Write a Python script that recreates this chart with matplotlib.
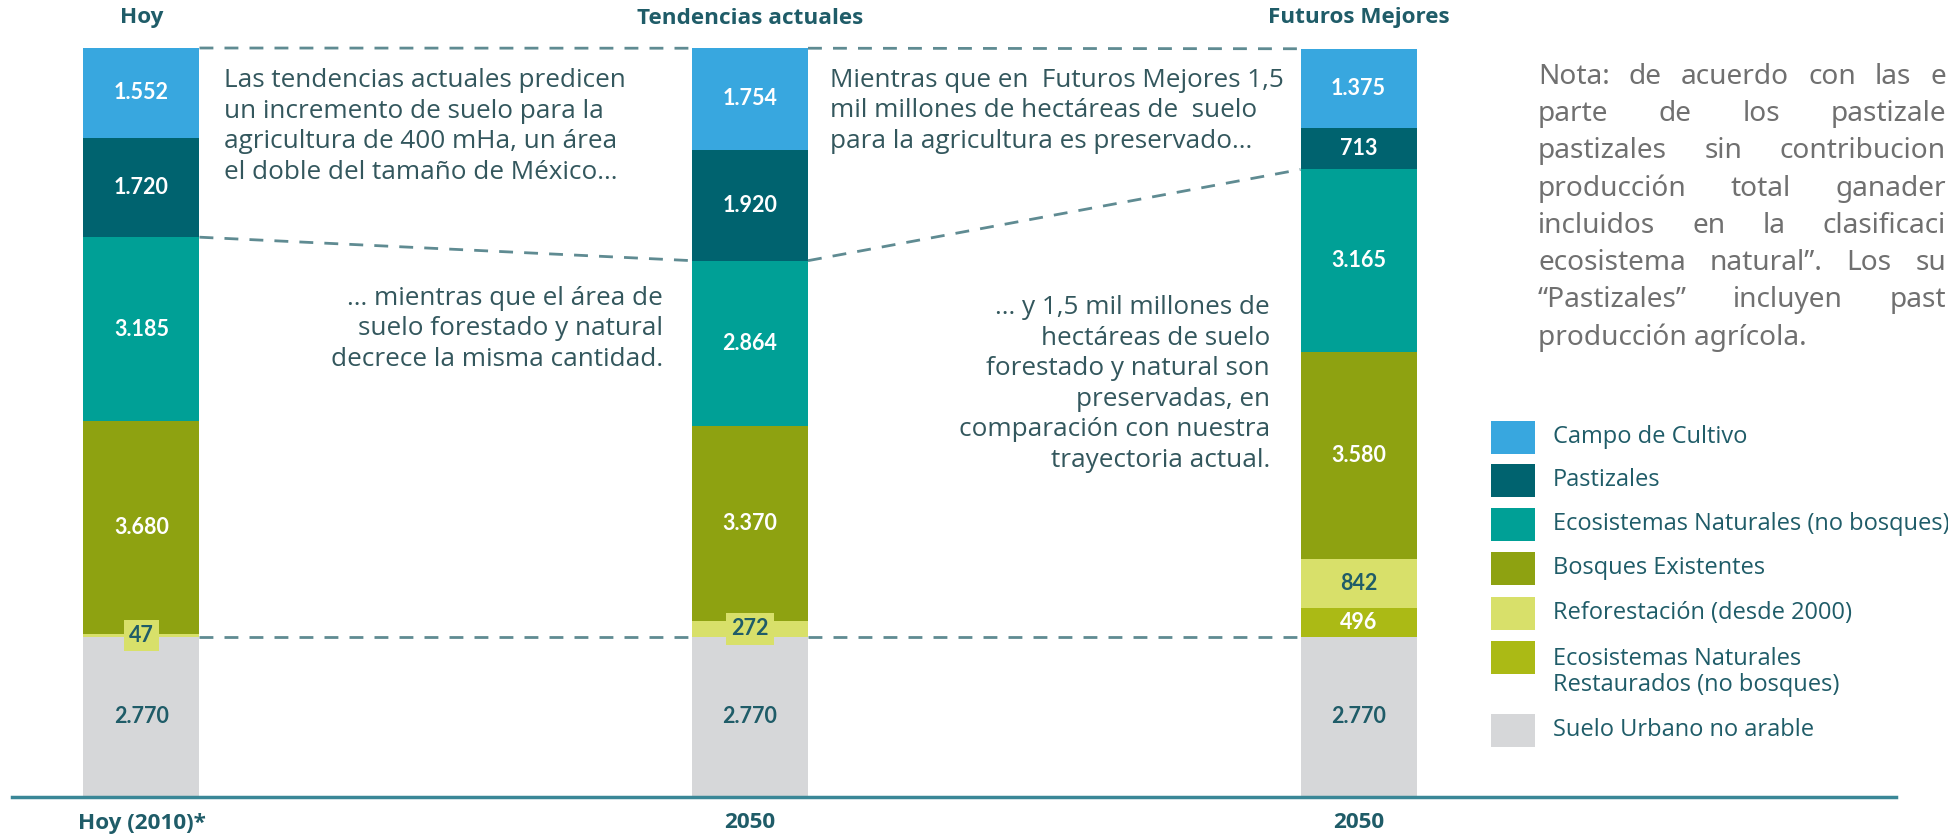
import matplotlib
matplotlib.use('Agg')
import matplotlib.pyplot as plt
from matplotlib.patches import Rectangle

# ---------------- data ----------------
scenarios = ['Hoy (2010)*', '2050', '2050']
titles = ['Hoy', 'Tendencias actuales', 'Futuros Mejores']

urbano = [2770, 2770, 2770]
restaurados = [0, 0, 496]
reforestacion = [47, 272, 842]
bosques = [3680, 3370, 3580]
eco_naturales = [3185, 2864, 3165]
pastizales = [1720, 1920, 713]
cultivo = [1552, 1754, 1375]

legend_labels = ['Campo de Cultivo', 'Pastizales', 'Ecosistemas Naturales (no bosques)',
                 'Bosques Existentes', 'Reforestación (desde 2000)',
                 'Ecosistemas Naturales\nRestaurados (no bosques)', 'Suelo Urbano no arable']

# ---------------- style ----------------
W, H = 1949, 839
C_CULT = '#38a7df'
C_PAST = '#00636f'
C_ECO = '#00a096'
C_BOSQ = '#8ea211'
C_REF = '#d8e06a'
C_REST = '#abba15'
C_URB = '#d6d7d9'
C_TXT = '#1f5c68'
C_BODY = '#33575d'
C_DASH = '#5f8b92'

plt.rcParams['font.family'] = ['Lato', 'DejaVu Sans']
BODY_FONT = ['Open Sans', 'DejaVu Sans']

fig = plt.figure(figsize=(W / 100, H / 100), dpi=100)
renderer = fig.canvas.get_renderer()

def fx(x):
    return x / W

def fy(y):
    return 1 - y / H

total_ref = sum(s[0] for s in [urbano, restaurados, reforestacion, bosques, eco_naturales, pastizales, cultivo])
ax = fig.add_axes([fx(12), fy(797), fx(1896) - fx(12), (797 - 48) / H])
spacing = 608.5
xa = -(141.5 - 12) / spacing
xb = xa + 1884 / spacing
ax.set_xlim(xa, xb)
ax.set_ylim(0, total_ref)
ax.axis('off')

bw = 116 / spacing
xs = [0, 1, 2]

stack = [
    (urbano, C_URB, C_TXT),
    (restaurados, C_REST, 'white'),
    (reforestacion, C_REF, C_TXT),
    (bosques, C_BOSQ, 'white'),
    (eco_naturales, C_ECO, 'white'),
    (pastizales, C_PAST, 'white'),
    (cultivo, C_CULT, 'white'),
]

def fmt(v):
    return f"{v:,}".replace(',', '.')

bottoms = [0, 0, 0]
tops = {}
for k, (vals, col, tcol) in enumerate(stack):
    ax.bar(xs, vals, bw, bottom=bottoms, color=col, linewidth=0)
    for i in xs:
        v = vals[i]
        if v <= 0:
            continue
        yc = bottoms[i] + v / 2
        small = v < 400
        bbox = dict(boxstyle='square,pad=0.25', fc=col, ec='none') if small else None
        ax.text(i, yc, fmt(v), ha='center', va='center', color=tcol,
                fontsize=15.5, fontweight='bold', bbox=bbox, zorder=5)
    bottoms = [bottoms[i] + vals[i] for i in xs]
    tops[k] = list(bottoms)

conn_levels = [tops[0], tops[4], tops[6]]
for lvl in conn_levels:
    for i in [0, 1]:
        ax.plot([i + bw / 2, i + 1 - bw / 2], [lvl[i], lvl[i + 1]],
                color=C_DASH, lw=2, ls=(0, (5, 4)), clip_on=False, zorder=1)

ax.axhline(0, color='#3a8797', lw=2.5, clip_on=False, zorder=6)

for i in xs:
    xp = ax.transData.transform((i, 0))[0]
    fig.text(xp / W, fy(18), titles[i], ha='center', va='center', color=C_TXT,
             fontsize=16.2, fontweight='bold', family=BODY_FONT)
    fig.text(xp / W, fy(823), scenarios[i], ha='center', va='center', color=C_TXT,
             fontsize=16.2, fontweight='bold', family=BODY_FONT)

# annotations (va='baseline' -> baseline of the last line)
ann = dict(fontsize=18.8, color=C_BODY, linespacing=1.29, family=BODY_FONT, va='baseline')
fig.text(fx(224), fy(179), 'Las tendencias actuales predicen\nun incremento de suelo para la\n'
         'agricultura de 400 mHa, un área\nel doble del tamaño de México…', ha='left', **ann)
fig.text(fx(663), fy(366), '… mientras que el área de\nsuelo forestado y natural\n'
         'decrece la misma cantidad.', ha='right', multialignment='right', **ann)
fig.text(fx(830), fy(148), 'Mientras que en  Futuros Mejores 1,5\nmil millones de hectáreas de  suelo\n'
         'para la agricultura es preservado…', ha='left', **ann)
fig.text(fx(1270), fy(467), '… y 1,5 mil millones de\nhectáreas de suelo\nforestado y natural son\n'
         'preservadas, en\ncomparación con nuestra\ntrayectoria actual.', ha='right',
         multialignment='right', **ann)

# legend
leg_y = [437, 480, 524, 568, 613, 657, 730]
leg_cols = [C_CULT, C_PAST, C_ECO, C_BOSQ, C_REF, C_REST, C_URB]
for lab, col, yc in zip(legend_labels, leg_cols, leg_y):
    fig.patches.append(Rectangle((fx(1491), fy(yc + 16.5)), fx(44), 33 / H,
                                 transform=fig.transFigure, fc=col, ec='none'))
    ty = yc + 15 if '\n' in lab else yc
    fig.text(fx(1553), fy(ty), lab, ha='left', va='center', fontsize=17,
             color=C_TXT, linespacing=1.1, family=BODY_FONT)

# nota: justified column, clipped by the right edge of the picture
C_NOTA = '#707070'
nota_lines = [
    ['Nota:', 'de', 'acuerdo', 'con', 'las', 'e'],
    ['parte', 'de', 'los', 'pastizale'],
    ['pastizales', 'sin', 'contribucion'],
    ['producción', 'total', 'ganader'],
    ['incluidos', 'en', 'la', 'clasificaci'],
    ['ecosistema', 'natural”.', 'Los', 'su'],
    ['“Pastizales”', 'incluyen', 'past'],
    ['producción agrícola.'],
]
NX0 = 1538
NX1 = W - 3
nota_kw = dict(fontsize=20.2, color=C_NOTA, family=['Noto Sans', 'DejaVu Sans'], va='center')
for j, words in enumerate(nota_lines):
    yl = 77 + j * 37.2
    objs = [fig.text(0, fy(yl), w, ha='left', **nota_kw) for w in words]
    widths = [o.get_window_extent(renderer).width for o in objs]
    if len(objs) == 1:
        objs[0].set_x(fx(NX0))
        continue
    gap = (NX1 - NX0 - sum(widths)) / (len(objs) - 1)
    xcur = NX0
    for o, wd in zip(objs, widths):
        o.set_x(fx(xcur))
        xcur += wd + gap

fig.savefig('out.png', dpi=100, facecolor='white')
